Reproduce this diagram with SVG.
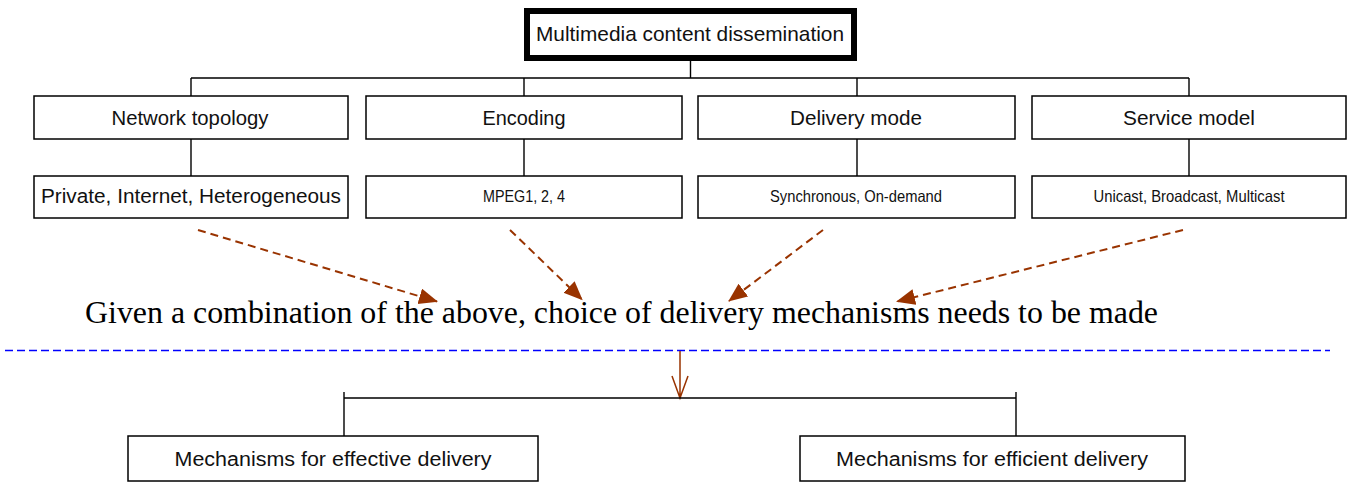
<svg xmlns="http://www.w3.org/2000/svg" width="1352" height="483" viewBox="0 0 1352 483">
<style>
.box{fill:#fff;stroke:#000;stroke-width:1.5}
.t{font-family:"Liberation Sans",Arial,sans-serif;fill:#111;text-anchor:middle}
.big{font-size:20px}
.small{font-size:16.5px}
.conn{stroke:#000;stroke-width:1.4;fill:none}
.dash{stroke:#993300;stroke-width:2;stroke-dasharray:8 5;fill:none;marker-end:url(#ah)}
</style>
<defs>
<marker id="ah" markerUnits="userSpaceOnUse" markerWidth="22" markerHeight="18" refX="18" refY="8" orient="auto">
<path d="M0,0 L19,8 L0,16 z" fill="#993300"/>
</marker>
</defs>
<rect width="1352" height="483" fill="#fff"/>
<g id="connectors">
<path class="conn" d="M690.5,61 V78 M191,78 H1189 M191,78 V96 M524,78 V96 M857,78 V96 M1189,78 V96"/>
<path class="conn" d="M191,139 V176 M524,139 V176 M857,139 V176 M1189,139 V176"/>
<line class="dash" x1="198" y1="230" x2="437" y2="301.5"/>
<line class="dash" x1="510" y1="230" x2="582" y2="299.5"/>
<line class="dash" x1="823" y1="230" x2="729" y2="301"/>
<line class="dash" x1="1183" y1="230" x2="897" y2="301.5"/>
<line x1="5" y1="350.5" x2="1330" y2="350.5" stroke="#0000ff" stroke-width="1.5" stroke-dasharray="8 4"/>
<path d="M680,351 V398 M672,376 L680,398 L688,376" stroke="#993300" stroke-width="1.5" fill="none"/>
<path class="conn" d="M344,398 H1016 M344,392 V436 M1016,392 V436"/>
</g>
<g id="root">
<rect x="527" y="11" width="327" height="47" fill="#fff" stroke="#000" stroke-width="6"/>
<text class="t" x="690" y="41" font-size="21" textLength="308" lengthAdjust="spacingAndGlyphs">Multimedia content dissemination</text>
</g>
<g id="network-topology">
<rect class="box" x="34" y="96" width="314" height="43"/>
<text class="t big" x="190" y="125" textLength="157" lengthAdjust="spacingAndGlyphs">Network topology</text>
</g>
<g id="encoding">
<rect class="box" x="366" y="96" width="316" height="43"/>
<text class="t big" x="524" y="125" textLength="83" lengthAdjust="spacingAndGlyphs">Encoding</text>
</g>
<g id="delivery-mode">
<rect class="box" x="698" y="96" width="317" height="43"/>
<text class="t big" x="856" y="125" textLength="132" lengthAdjust="spacingAndGlyphs">Delivery mode</text>
</g>
<g id="service-model">
<rect class="box" x="1032" y="96" width="314" height="43"/>
<text class="t big" x="1189" y="125" textLength="132" lengthAdjust="spacingAndGlyphs">Service model</text>
</g>
<g id="network-types">
<rect class="box" x="34" y="176" width="314" height="42"/>
<text class="t big" x="191" y="203" textLength="300" lengthAdjust="spacingAndGlyphs">Private, Internet, Heterogeneous</text>
</g>
<g id="encoding-types">
<rect class="box" x="366" y="176" width="316" height="42"/>
<text class="t small" x="524" y="202" textLength="82" lengthAdjust="spacingAndGlyphs">MPEG1, 2, 4</text>
</g>
<g id="delivery-types">
<rect class="box" x="698" y="176" width="317" height="42"/>
<text class="t small" x="856" y="202" textLength="172" lengthAdjust="spacingAndGlyphs">Synchronous, On-demand</text>
</g>
<g id="service-types">
<rect class="box" x="1032" y="176" width="314" height="42"/>
<text class="t small" x="1189" y="202" textLength="191" lengthAdjust="spacingAndGlyphs">Unicast, Broadcast, Multicast</text>
</g>
<g id="statement">
<text x="85" y="323" font-family="Liberation Serif, Times New Roman, serif" font-size="30.5" fill="#000" textLength="1073" lengthAdjust="spacingAndGlyphs">Given a combination of the above, choice of delivery mechanisms needs to be made</text>
</g>
<g id="effective">
<rect class="box" x="128" y="436" width="410" height="45"/>
<text class="t big" x="333" y="466" textLength="317" lengthAdjust="spacingAndGlyphs">Mechanisms for effective delivery</text>
</g>
<g id="efficient">
<rect class="box" x="800" y="436" width="385" height="45"/>
<text class="t big" x="992" y="466" textLength="312" lengthAdjust="spacingAndGlyphs">Mechanisms for efficient delivery</text>
</g>
</svg>
